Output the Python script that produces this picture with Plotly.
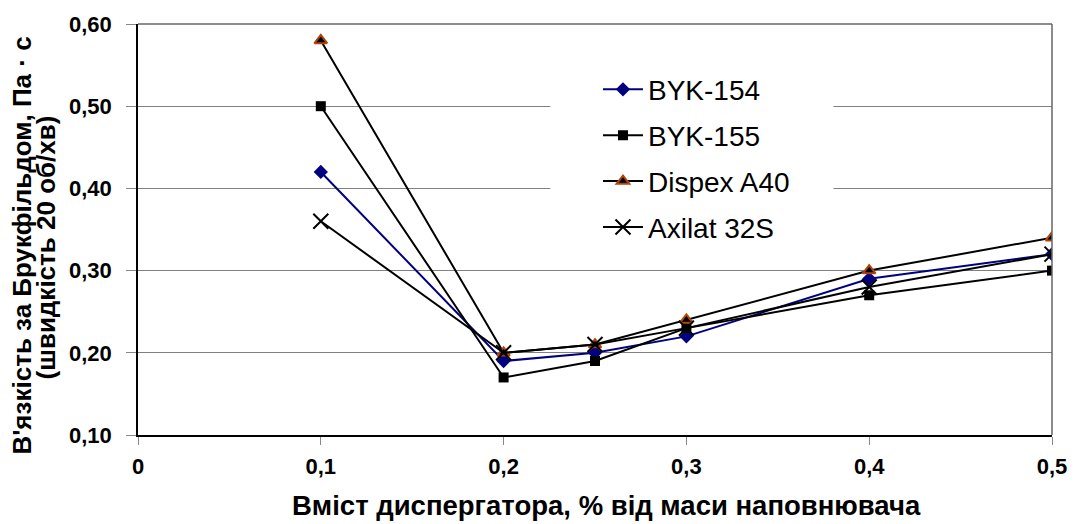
import plotly.graph_objects as go

x_vals = [0.1, 0.2, 0.25, 0.3, 0.4, 0.5]
byk154 = [0.42, 0.19, 0.20, 0.22, 0.29, 0.32]
byk155 = [0.50, 0.17, 0.19, 0.23, 0.27, 0.30]
dispex = [0.58, 0.20, 0.21, 0.24, 0.30, 0.34]
axilat = [0.36, 0.20, 0.21, 0.23, 0.28, 0.32]

x_ticks = [0, 0.1, 0.2, 0.3, 0.4, 0.5]
x_tick_labels = ["0", "0,1", "0,2", "0,3", "0,4", "0,5"]
y_ticks = [0.10, 0.20, 0.30, 0.40, 0.50, 0.60]
y_tick_labels = ["0,10", "0,20", "0,30", "0,40", "0,50", "0,60"]

x_title = "Вміст диспергатора, % від маси наповнювача"
y_title_1 = "В'язкість за Брукфільдом, Па · с"
y_title_2 = "(швидкість 20 об/хв)"

FONT = "Liberation Sans, Arial, sans-serif"

# plot area in page pixels: x 138..1058, y 20..435 (body margin removed below)
PL, PW, PT, PH = 138, 920, 20, 415


def px_x(p):
    return (p - PL) / PW


def px_y(p):
    return (PT + PH - p) / PH


fig = go.Figure()
fig.add_trace(go.Scatter(x=x_vals, y=byk154, name="BYK-154", mode="lines+markers",
                         line=dict(color="#000080", width=2),
                         marker=dict(symbol="diamond", size=11, color="#000080"),
                         legendgroup="a"))
fig.add_trace(go.Scatter(x=x_vals, y=byk155, name="BYK-155", mode="lines+markers",
                         line=dict(color="#000000", width=2),
                         marker=dict(symbol="square", size=10, color="#000000"),
                         legendgroup="b"))
fig.add_trace(go.Scatter(x=x_vals, y=dispex, name="Dispex A40", mode="lines+markers",
                         line=dict(color="#000000", width=2),
                         marker=dict(symbol="triangle-up", size=11, color="#000000",
                                     line=dict(color="#b0440c", width=2)),
                         legendgroup="c"))
fig.add_trace(go.Scatter(x=x_vals, y=axilat, name="Axilat 32S", mode="lines+markers",
                         line=dict(color="#000000", width=2),
                         marker=dict(symbol="x-thin", size=15, color="#000000",
                                     line=dict(color="#000000", width=2)),
                         legendgroup="d"))

fig.update_layout(
    width=1079, height=524,
    margin=dict(l=PL, r=1079 - PL - PW, t=PT, b=524 - PT - PH),
    paper_bgcolor="white", plot_bgcolor="white",
    font=dict(family=FONT, size=18, color="black"),
    legend=dict(x=px_x(601), y=px_y(61), xanchor="left", yanchor="top",
                bgcolor="white", borderwidth=0,
                font=dict(family=FONT, size=28, color="black"),
                traceorder="grouped", tracegroupgap=6.5,
                itemwidth=40),
    xaxis=dict(range=[0, 0.5], tickvals=x_ticks, ticktext=x_tick_labels,
               showgrid=False, zeroline=False,
               showline=True, linecolor="black", linewidth=1.5,
               ticks="outside", ticklen=8, tickcolor="#888888",
               ticklabelstandoff=3, ticklabeloverflow="allow",
               tickfont=dict(family=FONT, size=22, color="black", weight="bold")),
    yaxis=dict(range=[0.10, 0.60], tickvals=y_ticks, ticktext=y_tick_labels,
               showgrid=True, gridcolor="#808080", gridwidth=1,
               zeroline=False,
               showline=True, linecolor="black", linewidth=1.5,
               ticks="outside", ticklen=10, tickcolor="#888888",
               ticklabelstandoff=10, ticklabeloverflow="allow",
               tickfont=dict(family=FONT, size=22, color="black", weight="bold")),
)

fig.add_annotation(text="<b>" + x_title + "</b>", xref="paper", yref="paper",
                   x=px_x(610), y=px_y(506), xanchor="center", yanchor="middle",
                   showarrow=False, font=dict(family=FONT, size=27.5, color="black"))
fig.add_annotation(text="<b>" + y_title_1 + "</b>", xref="paper", yref="paper",
                   x=px_x(21), y=px_y(244), xanchor="center", yanchor="middle",
                   textangle=-90, showarrow=False,
                   font=dict(family=FONT, size=26, color="black"))
fig.add_annotation(text="<b>" + y_title_2 + "</b>", xref="paper", yref="paper",
                   x=px_x(45), y=px_y(246), xanchor="center", yanchor="middle",
                   textangle=-90, showarrow=False,
                   font=dict(family=FONT, size=26, color="black"))

# white area behind the legend (interrupts the gridlines, as in the original)
fig.add_shape(type="rect", xref="paper", yref="paper",
              x0=px_x(553), x1=px_x(838), y0=px_y(245), y1=px_y(55),
              fillcolor="white", line=dict(width=0), layer="above")

# right and top plot border in grey
fig.add_shape(type="line", xref="paper", yref="paper", x0=1, x1=1, y0=0, y1=1,
              line=dict(color="#666666", width=1.5))
fig.add_shape(type="line", xref="paper", yref="paper", x0=0, x1=1, y0=1, y1=1,
              line=dict(color="#666666", width=1.5))

fig.write_html("out.html",
               config={"displayModeBar": False},
               post_script="document.body.style.margin='0';"
                           "document.body.style.overflow='hidden';")
